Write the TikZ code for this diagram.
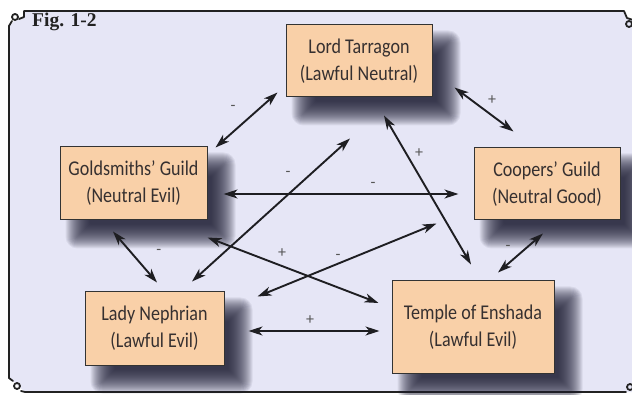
\documentclass[tikz,border=0pt]{standalone}
\usepackage{fontspec}
\newfontfamily\nodefont[FakeStretch=0.86]{Carlito}
\newfontfamily\lblfont{Carlito}
\newfontfamily\figfont{Liberation Serif}
\usetikzlibrary{arrows.meta,calc}
\definecolor{bgcol}{HTML}{E6E6F6}
\definecolor{boxcol}{HTML}{F9D0A8}
\definecolor{txtcol}{HTML}{363030}
\definecolor{shcol}{HTML}{1E1E34}
\definecolor{arrcol}{HTML}{1E1E22}
\definecolor{lblcol}{HTML}{555555}
\definecolor{framecol}{HTML}{222222}
\pgfdeclarelayer{back}
\pgfsetlayers{back,main}
\tikzset{
  party/.style={draw=black!80, line width=1pt, fill=boxcol, align=center, inner sep=0pt,
    font=\nodefont\fontsize{21}{27}\selectfont, text=txtcol},
  link/.style={draw=arrcol, line width=1.9pt,
    {Stealth[length=14pt,width=9pt,inset=4pt]}-{Stealth[length=14pt,width=9pt,inset=4pt]}},
  lbl/.style={font=\lblfont\fontsize{16}{16}\selectfont, text=lblcol, inner sep=0pt},
  framestroke/.style={draw=framecol, line width=1.8pt, line join=round, line cap=round},
}
\begin{document}
\begin{tikzpicture}[x=1pt,y=-1pt]
\useasboundingbox (0,0) rectangle (632,395);
\begin{pgfonlayer}{back}
  \fill[white] (0,0) rectangle (632,395);
  \fill[bgcol] (9,27) -- (14,21) -- (24,17) -- (24,11) -- (624,11) -- (627,18) -- (632,20)
    -- (632,392) -- (25,392) -- (13,381) -- (9,378) -- cycle;
  \draw[framestroke] (633,20) -- (627,18) -- (624,11) -- (24,11) -- (24,17) -- (19,19);
  \draw[framestroke] (15,17) circle (3);
  \draw[framestroke] (12,21) -- (9,26) -- (9,378) -- (13,381);
  \draw[framestroke] (17,386) circle (3);
  \draw[framestroke] (21,391) -- (25,392) -- (626,392);
  \draw[framestroke] (629,24) circle (3);
  \draw[framestroke] (630,387) circle (3);
\end{pgfonlayer}

\node[anchor=base west, inner sep=0pt, text=framecol, font=\figfont\bfseries\fontsize{19.5}{20}\selectfont] (fig) at (32,27) {Fig. 1-2};

\node[party, minimum width=146pt, minimum height=72pt] (lt) at (359,61) {Lord Tarragon\\(Lawful Neutral)};
\node[party, minimum width=147pt, minimum height=73pt] (gg) at (133.5,183.5) {Goldsmiths’ Guild\\(Neutral Evil)};
\node[party, minimum width=146pt, minimum height=72pt] (cg) at (547,184) {Coopers’ Guild\\(Neutral Good)};
\node[party, minimum width=139pt, minimum height=73pt] (ln) at (154.5,328.5) {Lady Nephrian\\(Lawful Evil)};
\node[party, minimum width=162pt, minimum height=92pt] (te) at (473,327) {Temple of Enshada\\(Lawful Evil)};

\begin{pgfonlayer}{back}
  \foreach \n in {lt,gg,cg,ln,te}{
    \foreach \r in {0,...,24}{
      \pgfmathsetmacro{\a}{30-\r}
      \pgfmathsetmacro{\b}{\r+4}
      \pgfmathsetmacro{\rc}{max(\r-12,1)}
      \fill[shcol, fill opacity=0.07, rounded corners=\rc pt]
        ($(\n.north west)+(\a,\a)$) rectangle ($(\n.south east)+(\b,\b)$);
    }
  }
\end{pgfonlayer}

\draw[link] ($(gg.north east)+(8,1)$) -- node[lbl, pos=.5, shift={(-13.5,-12)}] (m1) {-} ($(lt.south west)+(-8,-5)$);
\draw[link] ($(lt.south east)+(22,-10)$) -- node[lbl, pos=.5, shift={(8,-9.5)}] (m2) {+} ($(cg.north west)+(40,-16)$);
\draw[link] ($(gg.east)+(16,10.5)$) -- node[lbl, pos=.636, shift={(0,-9)}] (m3) {-} ($(cg.west)+(-15,10)$);
\draw[link] ($(lt.south)+(-9,41)$) -- node[lbl, pos=.25, shift={(-22.5,0)}] (m4) {-} ($(ln.north)+(37.5,-10)$);
\draw[link] ($(lt.south)+(25,18)$) -- node[lbl, pos=.253, shift={(13,0)}] (m5) {+} ($(te.north)+(-2,-16)$);
\draw[link] ($(gg.south east)+(0,17)$) -- node[lbl, pos=.436, shift={(0,-13)}] (m6) {+} ($(te.west)+(-13,-24)$);
\draw[link] ($(ln.north east)+(33,5)$) -- node[lbl, pos=.45, shift={(0,-7)}] (m7) {-} ($(cg.south west)+(-37,3)$);
\draw[link] ($(ln.east)+(24,2.5)$) -- node[lbl, pos=.47, shift={(0,-11)}] (m8) {+} ($(te.west)+(-12,4)$);
\draw[link] ($(gg.south)+(-20.5,11)$) -- node[lbl, pos=.404, shift={(28,0)}] (m9) {-} ($(ln.north)+(2.5,-9)$);
\draw[link] ($(cg.south)+(-4,13)$) -- node[lbl, pos=.375, shift={(-18,0)}] (m10) {-} ($(te.north)+(25,-8)$);
\end{tikzpicture}
\end{document}
